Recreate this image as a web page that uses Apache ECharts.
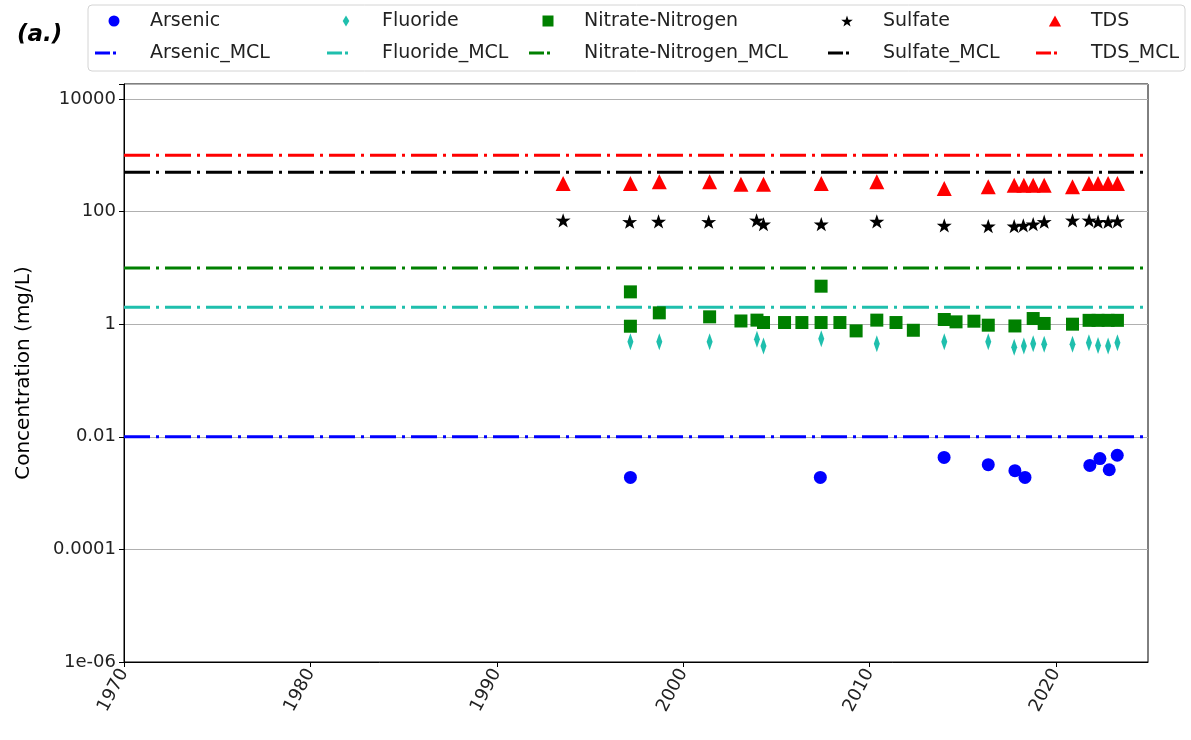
<!DOCTYPE html>
<html>
<head>
<meta charset="utf-8">
<script src="https://cdn.jsdelivr.net/npm/echarts@6/dist/echarts.min.js"></script>
<style>
html,body{margin:0;padding:0;background:#fff;}
#chart{width:1191px;height:740px;}
</style>
</head>
<body>
<div id="chart"></div>
<script>
// ---- data ----
const analyteNames = ['Arsenic', 'Fluoride', 'Nitrate-Nitrogen', 'Sulfate', 'TDS'];
const mclValues = [0.01, 2, 10, 500, 1000];

const arsenicYears  = [1997.17, 2007.36, 2014.0, 2016.37, 2017.8, 2018.34, 2021.82, 2022.36, 2022.86, 2023.29];
const arsenicValues = [0.0019, 0.0019, 0.0043, 0.0032, 0.0025, 0.0019, 0.0031, 0.0041, 0.0026, 0.0047];

const fluorideYears  = [1997.17, 1998.72, 2001.42, 2003.96, 2004.31, 2007.41, 2010.39, 2014.01, 2016.37, 2017.76, 2018.28, 2018.78, 2019.37, 2020.89, 2021.77, 2022.26, 2022.80, 2023.30];
const fluorideValues = [0.49, 0.49, 0.49, 0.54, 0.41, 0.55, 0.45, 0.49, 0.49, 0.39, 0.41, 0.45, 0.44, 0.44, 0.47, 0.42, 0.41, 0.47];

const nitrateYears  = [1997.17, 1997.17, 1998.72, 2001.42, 2003.1, 2003.96, 2004.31, 2005.44, 2006.37, 2007.40, 2007.40, 2008.41, 2009.28, 2010.39, 2011.42, 2012.35, 2014.01, 2014.64, 2015.6, 2016.37, 2017.8, 2018.78, 2019.37, 2020.89, 2021.78, 2022.26, 2022.80, 2023.30];
const nitrateValues = [3.75, 0.92, 1.59, 1.35, 1.14, 1.18, 1.07, 1.07, 1.07, 4.73, 1.07, 1.07, 0.76, 1.18, 1.07, 0.78, 1.21, 1.10, 1.13, 0.96, 0.93, 1.26, 1.03, 1.00, 1.17, 1.17, 1.17, 1.17];

const sulfateYears  = [1993.56, 1997.13, 1998.68, 2001.37, 2003.94, 2004.31, 2007.41, 2010.39, 2014.01, 2016.37, 2017.76, 2018.25, 2018.78, 2019.37, 2020.89, 2021.78, 2022.26, 2022.80, 2023.30];
const sulfateValues = [70, 66, 67, 66, 70, 60, 60, 67, 57, 55, 55, 57, 60, 66, 70, 70, 66, 66, 68];

const tdsYears  = [1993.56, 1997.17, 1998.72, 2001.42, 2003.1, 2004.31, 2007.41, 2010.39, 2014.01, 2016.37, 2017.76, 2018.28, 2018.78, 2019.37, 2020.89, 2021.77, 2022.26, 2022.80, 2023.30];
const tdsValues = [316, 316, 337, 337, 307, 307, 316, 337, 257, 275, 294, 294, 294, 294, 275, 316, 316, 316, 316];

const xMin = 1970, xMax = 2024.94, xInterval = 10;
const xTickValues = [1970, 1980, 1990, 2000, 2010, 2020];
const xTickLabels = ['1970', '1980', '1990', '2000', '2010', '2020'];
const yMin = 1e-6, yMax = 18450;
const yTickValues = [1e-6, 1e-4, 0.01, 1, 100, 10000];
const yTickLabels = ['1e-06', '0.0001', '0.01', '1', '100', '10000'];

// ---- styling ----
const FONT = 'DejaVu Sans';
const colors = ['#0000ff', '#1fbfad', '#008000', '#000000', '#ff0000'];
const starPath = 'path://M50,0 L61.8,35.1 L97.6,34.5 L68.8,56.7 L79.4,90.5 L50,70 L20.6,90.5 L31.2,56.7 L2.4,34.5 L38.2,35.1 Z';
const thinDiamond = 'path://M3,0 L6,5 L3,10 L0,5 Z';
const squarePath = 'path://M0,0 L10,0 L10,10 L0,10 Z';
const trianglePath = 'path://M5,0 L10,9 L0,9 Z';
const dashDotIcon = 'path://M0,0 L15,0 L15,3 L0,3 Z M18,0 L21,0 L21,3 L18,3 Z M37.99,1.5 L38,1.5 L38,1.51 Z';
const symbols = ['circle', thinDiamond, 'rect', starPath, 'triangle'];
const legendIcons = ['circle', thinDiamond, squarePath, starPath, trianglePath];
const symbolSizes = [13, [10, 17], 13, 15, 15];
const allYears = [arsenicYears, fluorideYears, nitrateYears, sulfateYears, tdsYears];
const allValues = [arsenicValues, fluorideValues, nitrateValues, sulfateValues, tdsValues];

const series = [];
analyteNames.forEach((name, i) => {
  series.push({
    name: name,
    type: 'scatter',
    symbol: symbols[i],
    symbolSize: symbolSizes[i],
    symbolKeepAspect: true,
    itemStyle: { color: colors[i], opacity: 1 },
    data: allYears[i].map((y, k) => [y, allValues[i][k]]),
    z: 3
  });
});
analyteNames.forEach((name, i) => {
  series.push({
    name: name + '_MCL',
    type: 'line',
    symbol: 'none',
    data: [[xMin, mclValues[i]], [xMax, mclValues[i]]],
    lineStyle: { color: colors[i], width: 3, type: [26, 6, 3, 6], cap: 'butt' },
    itemStyle: { color: colors[i] },
    z: 2
  });
});

const legendLefts = [95, 327, 529, 828, 1036];
const legends = analyteNames.map((name, i) => ({
  orient: 'vertical',
  left: legendLefts[i],
  top: 11,
  padding: 0,
  itemWidth: 38,
  itemHeight: 11,
  itemGap: 12,
  data: [
    { name: name, icon: legendIcons[i] },
    { name: name + '_MCL', icon: dashDotIcon }
  ],
  textStyle: { fontFamily: FONT, fontSize: 19, color: '#222', lineHeight: 20, padding: [0, 0, 0, 12] }
}));

const chart = echarts.init(document.getElementById('chart'), null, { renderer: 'canvas' });
chart.setOption({
  animation: false,
  backgroundColor: '#fff',
  title: {
    text: '(a.)',
    left: 12,
    top: 19,
    textStyle: { fontFamily: FONT, fontSize: 23, fontWeight: 'bold', fontStyle: 'italic', color: '#000' }
  },
  legend: legends,
  graphic: [{
    type: 'rect',
    shape: { x: 88, y: 5, width: 1097, height: 66, r: 4 },
    style: { fill: 'none', stroke: '#d4d4d4', lineWidth: 1 },
    silent: true,
    z: -1
  }],
  grid: { left: 124, right: 43, top: 84, bottom: 78, show: true, borderColor: '#000', borderWidth: 1, backgroundColor: 'transparent' },
  xAxis: {
    type: 'value',
    min: xMin,
    max: xMax,
    interval: xInterval,
    axisLine: { show: true, lineStyle: { color: '#000', width: 1 } },
    axisTick: { show: true, length: 5, lineStyle: { color: '#000' }, customValues: xTickValues },
    splitLine: { show: false },
    axisLabel: {
      rotate: 62,
      fontFamily: FONT,
      fontSize: 18,
      color: '#222',
      margin: 8,
      customValues: xTickValues,
      formatter: function (v) {
        const idx = xTickValues.findIndex(t => Math.abs(t - v) < 1e-6);
        return idx >= 0 ? xTickLabels[idx] : '';
      }
    }
  },
  yAxis: {
    type: 'log',
    logBase: 10,
    min: yMin,
    max: yMax,
    interval: 2,
    splitNumber: 5,
    name: 'Concentration (mg/L)',
    nameLocation: 'middle',
    nameGap: 90,
    nameTextStyle: { fontFamily: FONT, fontSize: 20, color: '#000' },
    axisLine: { show: true, lineStyle: { color: '#000', width: 1 } },
    axisTick: { show: true, length: 5, lineStyle: { color: '#000' } },
    splitLine: { show: true, lineStyle: { color: '#b0b0b0', width: 1 } },
    minorTick: { show: false },
    axisLabel: {
      fontFamily: FONT,
      fontSize: 18,
      color: '#222',
      margin: 8,
      formatter: function (v) {
        const e = Math.log10(v);
        for (let k = 0; k < yTickValues.length; k++) {
          if (Math.abs(Math.log10(yTickValues[k]) - e) < 1e-6) return yTickLabels[k];
        }
        return '';
      }
    }
  },
  series: series
});
</script>
</body>
</html>
